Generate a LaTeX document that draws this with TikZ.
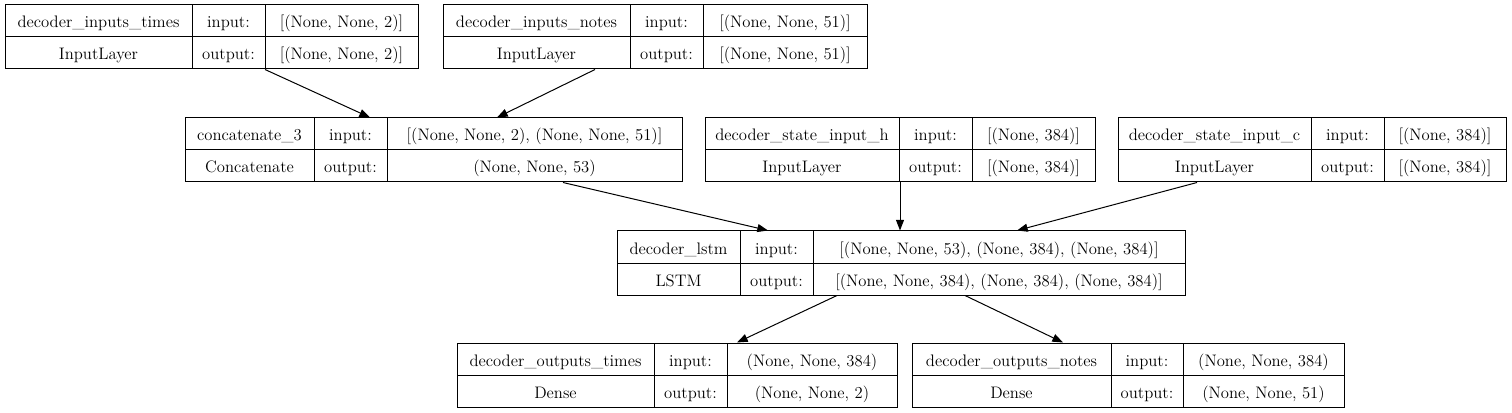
\documentclass[tikz,border=0pt]{standalone}
\usepackage{fontspec}
\usetikzlibrary{fit,calc,arrows.meta}
\tikzset{
  box/.style={draw=black, line width=0.75pt, inner sep=0pt},
  grid/.style={draw=black, line width=0.75pt},
  lbl/.style={anchor=base, inner sep=0pt, font=\fontsize{12.5}{15}\selectfont},
  conn/.style={draw=black, line width=0.75pt, -{Triangle[length=8pt,width=6pt]}},
}
\newcommand\klayer[6]{%
  \node[box, fit={(#2,#6) (#5,#6+64)}] (#1) {};
  \path[grid] (#3,#6) -- (#3,#6+64) (#4,#6) -- (#4,#6+64) (#2,#6+32) -- (#5,#6+32);
  \coordinate (#1-a) at ({(#2+#3)/2},#6+23);
  \coordinate (#1-b) at ({(#3+#4)/2},#6+23);
  \coordinate (#1-c) at ({(#4+#5)/2},#6+23);
  \coordinate (#1-d) at ({(#2+#3)/2},#6+55);
  \coordinate (#1-e) at ({(#3+#4)/2},#6+55);
  \coordinate (#1-f) at ({(#4+#5)/2},#6+55);
}
\newcommand\ktext[5]{%
  \node[lbl] (#1-t1) at (#1-a) {#2};
  \node[lbl] (#1-t2) at (#1-b) {input:};
  \node[lbl] (#1-t3) at (#1-c) {#4};
  \node[lbl] (#1-t4) at (#1-d) {#3};
  \node[lbl] (#1-t5) at (#1-e) {output:};
  \node[lbl] (#1-t6) at (#1-f) {#5};
}
\begin{document}
\begin{tikzpicture}[x=0.75pt,y=-0.75pt]
  \useasboundingbox (0,0) rectangle (1512,413);
  \klayer{l1}{5}{192}{265}{418}{5}
  \ktext{l1}{decoder\_inputs\_times}{InputLayer}{[(None, None, 2)]}{[(None, None, 2)]}
  \klayer{l2}{443}{630}{703}{867}{5}
  \ktext{l2}{decoder\_inputs\_notes}{InputLayer}{[(None, None, 51)]}{[(None, None, 51)]}
  \klayer{l3}{185}{314}{387}{682}{118}
  \ktext{l3}{concatenate\_3}{Concatenate}{[(None, None, 2), (None, None, 51)]}{(None, None, 53)}
  \klayer{l4}{705}{899}{972}{1095}{118}
  \ktext{l4}{decoder\_state\_input\_h}{InputLayer}{[(None, 384)]}{[(None, 384)]}
  \klayer{l5}{1118}{1311}{1384}{1506}{118}
  \ktext{l5}{decoder\_state\_input\_c}{InputLayer}{[(None, 384)]}{[(None, 384)]}
  \klayer{l6}{617}{740}{813}{1185}{231}
  \ktext{l6}{decoder\_lstm}{LSTM}{[(None, None, 53), (None, 384), (None, 384)]}{[(None, None, 384), (None, 384), (None, 384)]}
  \klayer{l7}{457}{654}{727}{897}{343}
  \ktext{l7}{decoder\_outputs\_times}{Dense}{(None, None, 384)}{(None, None, 2)}
  \klayer{l8}{912}{1111}{1183}{1344}{343}
  \ktext{l8}{decoder\_outputs\_notes}{Dense}{(None, None, 384)}{(None, None, 51)}

  \draw[conn] ($(l1.south)+(53.5,0)$) -- ($(l3.north)+(-63.5,0)$);
  \draw[conn] ($(l2.south)+(-60,0)$) -- ($(l3.north)+(63.5,0)$);
  \draw[conn] ($(l3.south)+(129.5,0)$) -- ($(l6.north)+(-133,0)$);
  \draw[conn] (l4.south) -- (l4.south |- l6.north);
  \draw[conn] ($(l5.south)+(-115,0)$) -- ($(l6.north)+(116,0)$);
  \draw[conn] ($(l6.south)+(-64,0)$) -- ($(l7.north)+(60,0)$);
  \draw[conn] ($(l6.south)+(64,0)$) -- ($(l8.north)+(-65,0)$);
\end{tikzpicture}
\end{document}
